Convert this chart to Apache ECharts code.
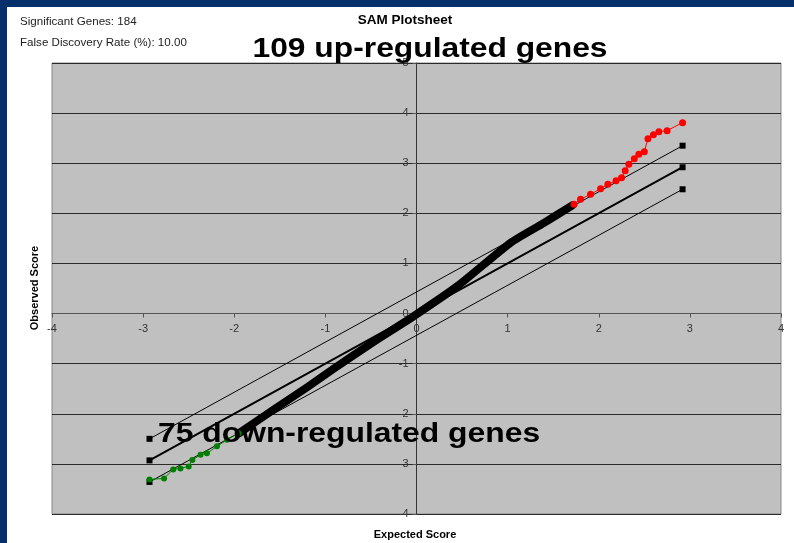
<!DOCTYPE html>
<html><head><meta charset="utf-8">
<script src="https://cdn.jsdelivr.net/npm/echarts@6/dist/echarts.min.js"></script>
<style>html,body{margin:0;padding:0;background:#fff}#c{width:794px;height:543px}</style>
</head><body><div id="c"></div>
<script>
// Expected / observed scores
const blackX = [-1.95, -1.57, -1.20, -0.91, -0.50, -0.03, 0.45, 1.03, 1.40, 1.71];
const blackY = [-2.39, -1.92, -1.47, -1.10, -0.60, -0.05, 0.55, 1.41, 1.81, 2.16];
const greenX = [-2.93, -2.77, -2.67, -2.59, -2.50, -2.46, -2.37, -2.30, -2.19, -2.08, -1.95];
const greenY = [-3.31, -3.29, -3.11, -3.09, -3.05, -2.92, -2.82, -2.79, -2.65, -2.52, -2.39];
const redX = [1.73, 1.80, 1.91, 2.02, 2.10, 2.19, 2.25, 2.29, 2.33, 2.39, 2.44, 2.50, 2.54, 2.60, 2.66, 2.75, 2.92];
const redY = [2.18, 2.28, 2.38, 2.49, 2.58, 2.65, 2.71, 2.85, 2.98, 3.09, 3.18, 3.23, 3.49, 3.57, 3.63, 3.65, 3.81];
const lineX = [-2.93, 2.92];
const upperY = [-2.50, 3.35];
const diagY = [-2.93, 2.92];
const lowerY = [-3.36, 2.48];
const xTicks = [-4, -3, -2, -1, 0, 1, 2, 3, 4];
const yTicks = [-4, -3, -2, -1, 0, 1, 2, 3, 4, 5];

const zip = (xs, ys) => xs.map((x, i) => [x, ys[i]]);
const FONT = '"Liberation Sans", Arial, sans-serif';
const W = 794, H = 543, GL = 52, GR = 13, GT = 63, GB = 29;
const xMin = xTicks[0], xMax = xTicks[xTicks.length - 1];
const yMin = yTicks[0], yMax = yTicks[yTicks.length - 1];
// shift axes so they cross at the origin (like Excel)
const plotW = W - GL - GR, plotH = H - GT - GB;
const xAxisOffset = -plotH * (0 - yMin) / (yMax - yMin);
const yAxisOffset = -plotW * (0 - xMin) / (xMax - xMin);

const chart = echarts.init(document.getElementById('c'));
const cutLine = (ys, w) => ({
  type: 'line', data: zip(lineX, ys), symbol: 'rect', symbolSize: 6,
  lineStyle: { color: '#000', width: w }, itemStyle: { color: '#000' }, z: 3
});
chart.setOption({
  animation: false,
  grid: { left: GL, right: GR, top: GT, bottom: GB, show: true, backgroundColor: '#c0c0c0', borderColor: '#888', borderWidth: 1 },
  xAxis: {
    type: 'value', min: xMin, max: xMax, interval: 1, position: 'bottom', offset: xAxisOffset,
    axisLine: { onZero: false, lineStyle: { color: '#555', width: 1 } },
    axisTick: { show: true, length: 4, lineStyle: { color: '#555' } },
    axisLabel: { color: '#333', fontFamily: FONT, fontSize: 11, margin: 10 },
    splitLine: { show: false }
  },
  yAxis: {
    type: 'value', min: yMin, max: yMax, interval: 1, position: 'left', offset: yAxisOffset,
    axisLine: { onZero: false, lineStyle: { color: '#333', width: 1 } },
    axisTick: { show: true, length: 4, lineStyle: { color: '#555' } },
    axisLabel: { color: '#333', fontFamily: FONT, fontSize: 11, margin: 8 },
    splitLine: { show: true, lineStyle: { color: '#2a2a2a', width: 1 } }
  },
  series: [
    cutLine(upperY, 1),
    cutLine(diagY, 2),
    cutLine(lowerY, 1),
    { type: 'line', data: zip(blackX, blackY), symbol: 'none', smooth: 0.2,
      lineStyle: { color: '#000', width: 8, join: 'round', cap: 'round' }, z: 4 },
    { type: 'line', data: zip(greenX, greenY), symbol: 'circle', symbolSize: 6,
      lineStyle: { color: '#008000', width: 1 }, itemStyle: { color: '#008000' }, z: 5 },
    { type: 'line', data: zip(redX, redY), symbol: 'circle', symbolSize: 7,
      lineStyle: { color: '#ff0000', width: 1 }, itemStyle: { color: '#ff0000' }, z: 5 }
  ],
  graphic: [
    { type: 'rect', left: 0, top: 0, shape: { width: 794, height: 7 }, style: { fill: '#06306a' }, z: 10 },
    { type: 'rect', left: 0, top: 0, shape: { width: 7, height: 543 }, style: { fill: '#06306a' }, z: 10 },
    { type: 'text', left: 20, top: 16, style: { text: 'Significant Genes: 184', fill: '#222', font: '11.6px ' + FONT }, z: 10 },
    { type: 'text', left: 20, top: 37, style: { text: 'False Discovery Rate (%): 10.00', fill: '#222', font: '11.6px ' + FONT }, z: 10 },
    { type: 'text', x: 405, y: 20, style: { text: 'SAM Plotsheet', fill: '#000', font: 'bold 13.5px ' + FONT, textAlign: 'center', textVerticalAlign: 'middle' }, z: 10 },
    { type: 'text', x: 430, y: 49, scaleX: 1.135, style: { text: '109 up-regulated genes', fill: '#000', font: 'bold 28px ' + FONT, textAlign: 'center', textVerticalAlign: 'middle' }, z: 10 },
    { type: 'text', x: 158, y: 434, scaleX: 1.137, style: { text: '75 down-regulated genes', fill: '#000', font: 'bold 28px ' + FONT, textAlign: 'left', textVerticalAlign: 'middle' }, z: 10 },
    { type: 'text', x: 415, y: 535, style: { text: 'Expected Score', fill: '#000', font: 'bold 11px ' + FONT, textAlign: 'center', textVerticalAlign: 'middle' }, z: 10 },
    { type: 'text', x: 35, y: 288, rotation: Math.PI / 2, style: { text: 'Observed Score', fill: '#000', font: 'bold 11px ' + FONT, textAlign: 'center', textVerticalAlign: 'middle' }, z: 10 }
  ]
});
</script></body></html>
